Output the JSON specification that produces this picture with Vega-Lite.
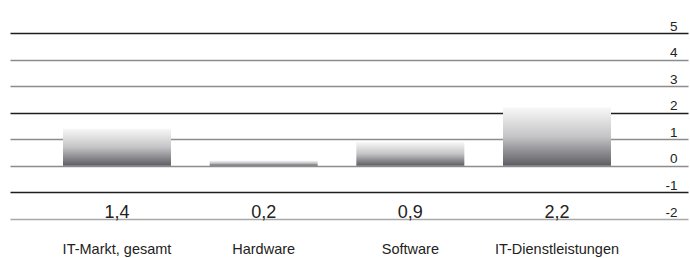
{
  "$schema": "https://vega.github.io/schema/vega-lite/v6.json",
  "width": 678,
  "height": 186,
  "autosize": {"type": "none"},
  "padding": {"left": 10, "top": 33, "right": 2, "bottom": 39},
  "background": "white",
  "config": {
    "view": {"stroke": null},
    "font": "Liberation Sans",
    "axisY": {
      "title": null,
      "orient": "right",
      "values": [-2, -1, 0, 1, 2, 3, 4, 5],
      "tickCount": 8,
      "labelOverlap": false,
      "domain": false,
      "ticks": false,
      "grid": true,
      "gridWidth": 1.5,
      "gridOpacity": 1,
      "labelAlign": "right",
      "labelBaseline": "bottom",
      "labelPadding": -11,
      "labelFontSize": 13.5,
      "labelFont": "Liberation Sans",
      "labelColor": "#222222"
    }
  },
  "data": {
    "values": [
      {"kategorie": "IT-Markt, gesamt", "wert": 1.4, "label": "1,4"},
      {"kategorie": "Hardware", "wert": 0.2, "label": "0,2"},
      {"kategorie": "Software", "wert": 0.9, "label": "0,9"},
      {"kategorie": "IT-Dienstleistungen", "wert": 2.2, "label": "2,2"}
    ]
  },
  "encoding": {
    "x": {
      "field": "kategorie",
      "type": "nominal",
      "sort": null,
      "scale": {"paddingInner": 0.2636, "paddingOuter": 0.4432, "align": 0.4077},
      "axis": {
        "title": null,
        "domain": false,
        "ticks": false,
        "labelAngle": 0,
        "labelFontSize": 14.5,
        "labelFont": "Liberation Sans",
        "labelColor": "#222222",
        "labelPadding": 23
      }
    }
  },
  "layer": [
    {
      "mark": {
        "type": "bar",
        "color": {
          "gradient": "linear",
          "x1": 0, "y1": 0, "x2": 0, "y2": 1,
          "stops": [
            {"offset": 0, "color": "#f8f8f8"},
            {"offset": 0.5, "color": "#c4c4c6"},
            {"offset": 1, "color": "#5c5c62"}
          ]
        }
      },
      "encoding": {
        "y": {
          "field": "wert",
          "type": "quantitative",
          "scale": {"domain": [-2, 5], "nice": false},
          "axis": {
            "title": null,
            "orient": "right",
            "values": [-2, -1, 0, 1, 2, 3, 4, 5],
            "tickCount": 8,
            "labelExpr": "'' + datum.value",
            "labelOverlap": false,
            "gridColor": {
              "condition": [
                {"test": "datum.value == 5 || datum.value == 2 || datum.value == -1", "value": "#1e1e1e"},
                {"test": "datum.value == -2", "value": "#a8a8a8"}
              ],
              "value": "#8c8c8c"
            }
          }
        }
      }
    },
    {
      "mark": {
        "type": "text",
        "baseline": "alphabetic",
        "dy": -1,
        "fontSize": 18,
        "font": "Liberation Sans",
        "color": "#222222"
      },
      "encoding": {
        "y": {
          "datum": -2,
          "type": "quantitative",
          "axis": {
            "title": null,
            "orient": "right",
            "values": [-2, -1, 0, 1, 2, 3, 4, 5],
            "tickCount": 8,
            "labelExpr": "'' + datum.value",
            "labelOverlap": false,
            "gridColor": {
              "condition": [
                {"test": "datum.value == 5 || datum.value == 2 || datum.value == -1", "value": "#1e1e1e"},
                {"test": "datum.value == -2", "value": "#a8a8a8"}
              ],
              "value": "#8c8c8c"
            }
          }
        },
        "text": {"field": "label"}
      }
    }
  ]
}
